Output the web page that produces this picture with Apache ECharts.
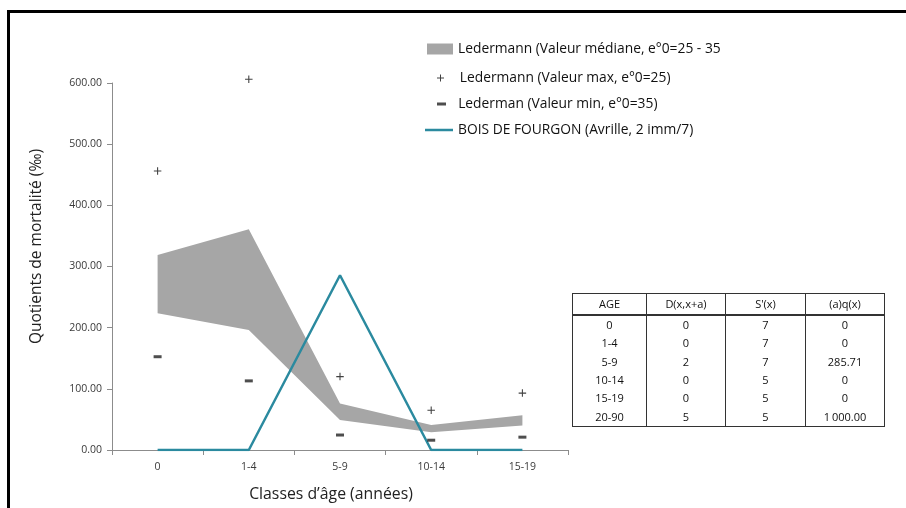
<!DOCTYPE html>
<html><head><meta charset="utf-8">
<script src="https://cdn.jsdelivr.net/npm/echarts@6/dist/echarts.min.js"></script>
<style>
html,body{margin:0;padding:0;background:#fff;}
#frame{position:absolute;left:7px;top:10px;width:910px;height:510px;border-left:3px solid #000;border-top:3px solid #000;box-sizing:border-box;}
#chart{position:absolute;left:0;top:0;width:906px;height:508px;}
#tbl{position:absolute;left:572px;top:293px;border-collapse:collapse;font-family:"Open Sans",sans-serif;font-size:11px;color:#111;}
#tbl td,#tbl th{font-weight:normal;text-align:center;padding:0;border-left:1.5px solid #333;border-right:1.5px solid #333;height:18.3px;line-height:18px;}
#tbl th{height:20px;border-top:1.5px solid #333;border-bottom:2px solid #333;}
#tbl tr:last-child td{border-bottom:1.5px solid #333;}
</style></head>
<body>
<div id="frame"></div>
<div id="chart"></div>
<table id="tbl"></table>
<script>
const categories = ['0','1-4','5-9','10-14','15-19'];
const medianLow  = [223.5, 196, 49, 29, 40];
const medianHigh = [319, 361, 76, 41, 57];
const maxValues  = [456, 606, 120, 65, 93];
const minValues  = [152.5, 113, 24.5, 16, 21];
const fourgon    = [0, 0, 285.71, 0, 0];

const tableHeader = ['AGE','D(x,x+a)',"S'(x)",'(a)q(x)'];
const tableAge = ['0','1-4','5-9','10-14','15-19','20-90'];
const tableD   = ['0','0','2','0','0','5'];
const tableS   = ['7','7','7','5','5','5'];
const tableQ   = ['0','0','285.71','0','0','1\u2009000.00'];
const colWidths = [73, 78, 79, 78];

// table
const tbl = document.getElementById('tbl');
let html = '<tr>' + tableHeader.map((h,i)=>'<th style="width:'+colWidths[i]+'px">'+h+'</th>').join('') + '</tr>';
for (let r = 0; r < tableAge.length; r++) {
  html += '<tr><td>'+tableAge[r]+'</td><td>'+tableD[r]+'</td><td>'+tableS[r]+'</td><td>'+tableQ[r]+'</td></tr>';
}
tbl.innerHTML = html;

const diff = medianHigh.map((v,i)=>+(v - medianLow[i]).toFixed(2));
const FONT = '"Open Sans", sans-serif';
const plusPath = 'path://M3,0h1v7h-1z M0,3h7v1h-7z';
const txt = {fontFamily: FONT, fontSize: 13.8, color: '#111'};
const S1 = 'Ledermann (Valeur médiane, e°0=25 - 35';
const S2 = 'Ledermann (Valeur max, e°0=25)';
const S3 = 'Lederman (Valeur min, e°0=35)';
const S4 = 'BOIS DE FOURGON (Avrille, 2 imm/7)';

const chart = echarts.init(document.getElementById('chart'));
chart.setOption({
  animation: false,
  backgroundColor: 'transparent',
  grid: {left: 112, right: 338, top: 83, bottom: 58},
  legend: [
    {data: [{name: S1, icon: 'rect'}], left: 427, top: 42, padding: 0, itemWidth: 26, itemHeight: 11, textStyle: txt, selectedMode: false},
    {data: [{name: S2, icon: plusPath}], left: 437, top: 71, padding: 0, itemWidth: 7, itemHeight: 7, textStyle: txt, selectedMode: false, formatter: n => '   ' + n},
    {data: [{name: S3, icon: 'rect'}], left: 437, top: 97, padding: 0, itemWidth: 9, itemHeight: 3, textStyle: txt, selectedMode: false, formatter: n => '  ' + n},
    {data: [{name: S4, icon: 'rect'}], left: 425, top: 123, padding: 0, itemWidth: 28, itemHeight: 2.5, textStyle: txt, selectedMode: false}
  ],
  xAxis: {
    type: 'category', data: categories, boundaryGap: true,
    name: 'Classes d\u2019âge (années)', nameLocation: 'middle', nameGap: 36,
    nameTextStyle: {fontFamily: FONT, fontSize: 15.8, color: '#222', padding: [0, 18, 0, 0]},
    axisLine: {lineStyle: {color: '#8c8c8c', width: 1}},
    axisTick: {show: true, length: 5, lineStyle: {color: '#8c8c8c'}},
    axisLabel: {fontFamily: FONT, fontSize: 10.5, color: '#3a3a3a', margin: 12}
  },
  yAxis: {
    type: 'value', min: 0, max: 600, interval: 100,
    name: 'Quotients de mortalité (‰)', nameLocation: 'middle', nameGap: 67, nameRotate: 90,
    nameTextStyle: {fontFamily: FONT, fontSize: 15.5, color: '#222', padding: [0, 0, 0, 40]},
    axisLine: {show: true, lineStyle: {color: '#8c8c8c', width: 1}},
    axisTick: {show: true, length: 5, lineStyle: {color: '#8c8c8c'}},
    splitLine: {show: false},
    axisLabel: {fontFamily: FONT, fontSize: 10.5, color: '#3a3a3a', margin: 10, formatter: v => v.toFixed(2)}
  },
  series: [
    {name: 'base', type: 'line', stack: 'band', data: medianLow, symbol: 'none', lineStyle: {width: 0}, areaStyle: {color: 'transparent', opacity: 0}, silent: true, legendHoverLink: false, z: 1},
    {name: S1, type: 'line', stack: 'band', data: diff, symbol: 'none', lineStyle: {width: 0, color: '#a6a6a6'}, itemStyle: {color: '#a6a6a6'}, areaStyle: {color: '#a6a6a6', opacity: 1}, z: 2},
    {name: S2, type: 'scatter', data: maxValues, symbol: plusPath, symbolSize: 7.5, itemStyle: {color: '#111'}, clip: false, z: 5},
    {name: S3, type: 'scatter', data: minValues, symbol: 'rect', symbolSize: [8, 3], itemStyle: {color: '#222'}, clip: false, z: 5},
    {name: S4, type: 'line', data: fourgon, symbol: 'none', lineStyle: {color: '#2b8a9f', width: 2.5}, itemStyle: {color: '#2b8a9f'}, z: 4}
  ]
});
</script>
</body></html>
